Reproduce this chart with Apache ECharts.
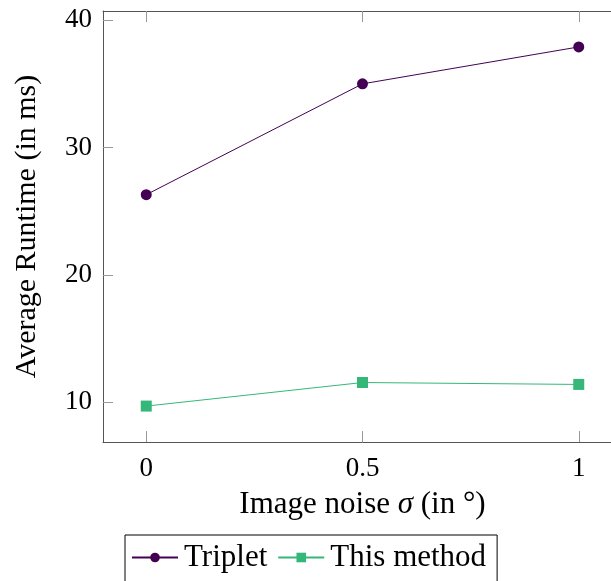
<!DOCTYPE html>
<html>
<head>
<meta charset="utf-8">
<script src="https://cdn.jsdelivr.net/npm/echarts@6/dist/echarts.min.js"></script>
<style>
  html, body { margin: 0; padding: 0; background: #fff; overflow: hidden; }
  #chart { width: 640px; height: 600px; }
</style>
</head>
<body>
<div id="chart"></div>
<script>
// 数据
const noiseLevels = [0, 0.5, 1];
const tripletRuntime = [26.3, 35.0, 37.9];
const thisMethodRuntime = [9.7, 11.55, 11.4];
const xTicks = [0, 0.5, 1];
const yTicks = [10, 20, 30, 40];

const FONT = 'Liberation Serif';
const AXIS_COLOR = '#555';
const TICK_COLOR = '#999';

const chart = echarts.init(document.getElementById('chart'), null, { renderer: 'canvas' });

const pairs = (xs, ys) => xs.map((x, i) => [x, ys[i]]);

const option = {
    animation: false,
    grid: {
        left: 103,
        top: 11,
        width: 519,
        height: 431,
        outerBoundsMode: 'none',
        containLabel: false
    },
    // 遮住窗口右边缘（参考图中坐标框右边被裁掉）
    graphic: [{
        type: 'rect',
        z: 100,
        shape: { x: 606, y: 13, width: 40, height: 427 },
        style: { fill: '#fff' },
        silent: true
    }],
    legend: {
        left: 125,
        top: 535,
        orient: 'horizontal',
        borderColor: '#000',
        borderWidth: 1,
        borderRadius: 0,
        padding: [7, 11, 20, 6],
        itemGap: 10,
        itemWidth: 46,
        itemHeight: 12,
        textStyle: { fontFamily: FONT, fontSize: 31, color: '#000', padding: [0, 0, 0, 1] },
        data: ['Triplet', 'This method']
    },
    xAxis: [{
        type: 'value',
        min: -0.1,
        max: 1.1,
        name: '{n|Image noise }{s|σ}{n| (in °)}',
        nameLocation: 'middle',
        nameGap: 47,
        nameTextStyle: {
            rich: {
                n: { fontFamily: FONT, fontSize: 31, color: '#000' },
                s: { fontFamily: FONT, fontSize: 31, fontStyle: 'italic', color: '#000' }
            }
        },
        axisLine: { show: true, onZero: false, lineStyle: { color: AXIS_COLOR, width: 1 } },
        axisTick: { show: true, inside: true, length: 11, customValues: xTicks, lineStyle: { color: TICK_COLOR } },
        axisLabel: {
            customValues: xTicks,
            margin: 13,
            fontFamily: FONT,
            fontSize: 27,
            color: '#000',
            formatter: v => String(v)
        },
        splitLine: { show: false }
    }, {
        type: 'value',
        position: 'top',
        min: -0.1,
        max: 1.1,
        axisLine: { show: true, onZero: false, lineStyle: { color: AXIS_COLOR, width: 1 } },
        axisTick: { show: true, inside: true, length: 11, customValues: xTicks, lineStyle: { color: TICK_COLOR } },
        axisLabel: { show: false },
        splitLine: { show: false }
    }],
    yAxis: {
        type: 'value',
        min: 6.88,
        max: 40.72,
        name: 'Average Runtime (in ms)',
        nameLocation: 'middle',
        nameGap: 61,
        nameTextStyle: { fontFamily: FONT, fontSize: 30, color: '#000' },
        axisLine: { show: true, onZero: false, lineStyle: { color: AXIS_COLOR, width: 1 } },
        axisTick: { show: true, inside: true, length: 10, customValues: yTicks, lineStyle: { color: TICK_COLOR } },
        axisLabel: {
            customValues: yTicks,
            margin: 11,
            fontFamily: FONT,
            fontSize: 27,
            color: '#000'
        },
        splitLine: { show: false }
    },
    series: [{
        name: 'Triplet',
        type: 'line',
        data: pairs(noiseLevels, tripletRuntime),
        symbol: 'circle',
        symbolSize: 11,
        itemStyle: { color: '#440154' },
        lineStyle: { color: '#440154', width: 1 }
    }, {
        name: 'This method',
        type: 'line',
        data: pairs(noiseLevels, thisMethodRuntime),
        symbol: 'rect',
        symbolSize: 11,
        itemStyle: { color: '#35b779' },
        lineStyle: { color: '#35b779', width: 1 }
    }]
};

chart.setOption(option);
</script>
</body>
</html>
